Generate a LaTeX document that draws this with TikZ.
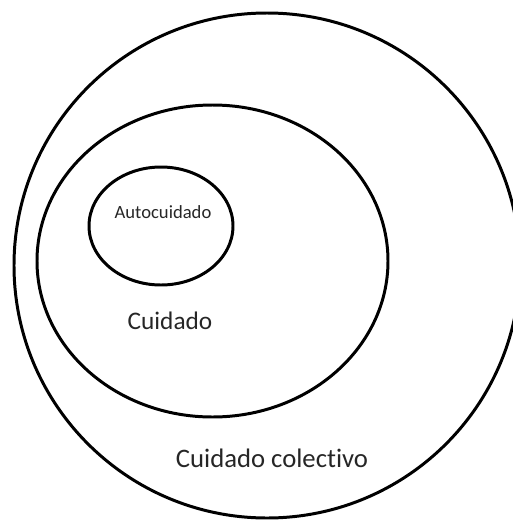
\documentclass[tikz,border=0pt]{standalone}
\usepackage{fontspec}
\setmainfont{Carlito}[Ligatures=NoCommon]
\usetikzlibrary{shapes.geometric}

\begin{document}
\begin{tikzpicture}[x=0.02cm,y=-0.02cm,
	ring/.style={draw,ellipse,line width=1.7pt,inner sep=0pt},
	every node/.style={text=black!85}]
	\useasboundingbox (0,0) rectangle (512,521);
	% Rings
	\node[ring,minimum width=506*0.02cm,minimum height=505*0.02cm] (colectivo) at (267,265.5) {};
	\node[ring,minimum width=351*0.02cm,minimum height=312*0.02cm] (cuidado) at (212.5,261) {};
	\node[ring,minimum width=144*0.02cm,minimum height=118*0.02cm] (auto) at (161,226) {};
	% Labels
	\node[font=\fontsize{10.6}{12}\selectfont] (autolabel) at (163,212) {Autocuidado};
	\node[font=\fontsize{14.4}{16}\selectfont] (cuidadolabel) at (170,321) {Cuidado};
	\node[font=\fontsize{15.2}{17}\selectfont] (colectivolabel) at (272,458) {Cuidado colectivo};
\end{tikzpicture}
\end{document}
